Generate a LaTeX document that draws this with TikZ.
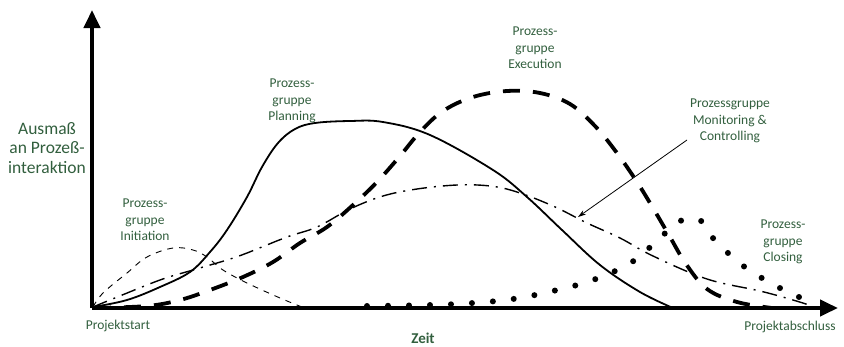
\documentclass[tikz,border=0pt]{standalone}
\usepackage{fontspec}
\setmainfont{Carlito}
\usetikzlibrary{arrows.meta}
\definecolor{labelgreen}{RGB}{50,95,62}
\tikzset{
  axisline/.style={line width=4pt, -{Triangle[length=18pt,width=16pt]}},
  grouplabel/.style={text=labelgreen, align=center, inner sep=0pt,
    font=\fontsize{13.5}{16.5}\selectfont},
  axislabel/.style={text=labelgreen, inner sep=0pt,
    font=\fontsize{13.5}{16.5}\selectfont},
  initcurve/.style={line width=0.9pt, dash pattern=on 6pt off 6pt},
  plancurve/.style={line width=1.8pt},
  execcurve/.style={line width=3.8pt, dash pattern=on 17pt off 13pt},
  moncurve/.style={line width=1.4pt, dash pattern=on 15pt off 7pt on 2pt off 7pt},
  closecurve/.style={line width=6pt, line cap=round, dash pattern=on 0pt off 21pt},
  pointer/.style={line width=0.8pt, -{Stealth[length=8pt,width=5pt]}}
}
\begin{document}
\begin{tikzpicture}[x=1pt, y=-1pt]
\useasboundingbox (0,0) rectangle (844,346);

% axes
\coordinate (origin) at (92,308);
\coordinate (ytip) at (92,10);
\coordinate (xtip) at (838,308);
\draw[axisline] (origin) -- (ytip);
\draw[axisline] (origin) -- (xtip);

% Initiation
\draw[initcurve] plot[smooth, tension=0.6] coordinates {
  (93,307) (103,293) (127,273) (147,257) (173,248) (193,250) (207,257)
  (223,270) (247,283) (280,298) (302,307)};

% Planning
\draw[plancurve] plot[smooth, tension=0.6] coordinates {
  (93,307) (127,300) (160,287) (190,272) (210,252) (227,230) (247,197)
  (262,167) (278,143) (295,129) (315,123) (350,121) (383,122) (430,135)
  (493,170) (527,197) (562,230) (600,265) (640,292) (673,308)};

% Execution
\draw[execcurve] plot[smooth, tension=0.6] coordinates {
  (94,308) (147,306) (180,300) (210,290) (243,277) (273,262) (300,243)
  (327,227) (353,205) (377,182) (400,156) (420,132) (443,111) (473,97)
  (507,91) (540,93) (570,104) (595,126) (617,153) (637,182) (653,208)
  (670,237) (686,264) (707,289) (737,302) (772,308)};

% Monitoring & Controlling
\draw[moncurve] plot[smooth, tension=0.6] coordinates {
  (93,307) (110,300) (160,280) (193,270) (227,260) (247,253) (287,237)
  (317,227) (350,209) (383,196) (417,189) (457,185) (490,186) (517,192)
  (553,206) (587,223) (620,238) (653,256) (707,279) (760,291) (793,300)
  (812,306)};

% Closing
\draw[closecurve] plot[smooth, tension=0.6] coordinates {
  (367,306) (431,305) (473,303) (513,299) (553,291) (593,280) (632,262)
  (662,236) (680,221) (700,220) (712,237) (742,265) (778,287) (815,304)};

% labels
\node[axislabel, align=center, font=\fontsize{17.5}{19.5}\selectfont]
  (ylab) at (47,148) {Ausmaß\\an Prozeß-\\interaktion};
\node[grouplabel] (init) at (145,220) {Prozess-\\gruppe\\Initiation};
\node[grouplabel] (plan) at (292,101) {Prozess-\\gruppe\\Planning};
\node[grouplabel] (exec) at (535,48) {Prozess-\\gruppe\\Execution};
\node[grouplabel] (mon) at (730,121) {Prozessgruppe\\Monitoring \&\\Controlling};
\node[grouplabel] (close) at (783,242) {Prozess-\\gruppe\\Closing};
\node[axislabel] (start) at (118,326) {Projektstart};
\node[axislabel, font=\fontsize{15}{17}\selectfont\bfseries] (zeit) at (423,338) {Zeit};
\node[axislabel] (end) at (790,327) {Projektabschluss};

% pointer from the Monitoring & Controlling label to its curve
\coordinate (monfrom) at (687,140);
\coordinate (monto) at (578,217);
\draw[pointer] (monfrom) -- (monto);
\end{tikzpicture}
\end{document}
